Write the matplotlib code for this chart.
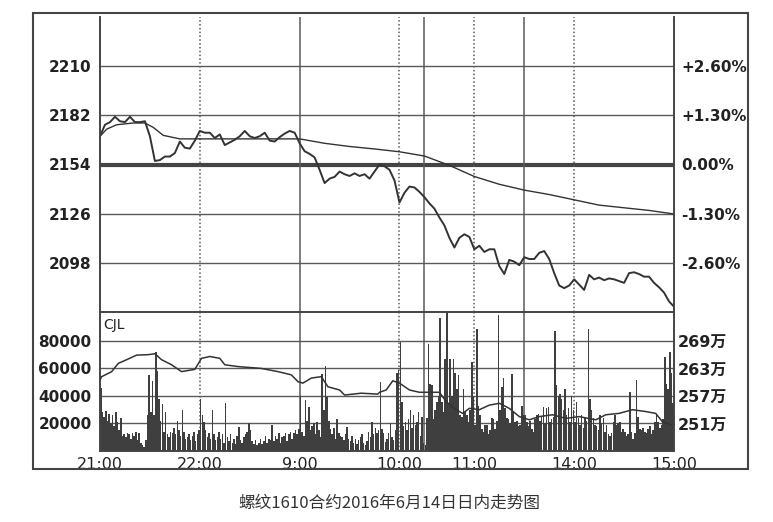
import numpy as np
import matplotlib.pyplot as plt
from matplotlib.patches import Rectangle

plt.rcParams['font.family'] = ['DejaVu Sans', 'Noto Sans CJK SC']

# trading minutes: 21:00-23:00, 9:00-10:15, 10:30-11:30, 13:30-15:00 -> 345 min
tick_pos = [0, 60, 120, 180, 225, 285, 345]
tick_labels = ['21:00', '22:00', '9:00', '10:00', '11:00', '14:00', '15:00']
solid_x = [120, 195, 255]
dotted_x = [60, 180, 225, 285]

prev_close = 2154
price_ticks = [2098, 2126, 2154, 2182, 2210]
pct_labels = ['-2.60%', '-1.30%', '0.00%', '+1.30%', '+2.60%']

# last price, read every 3 minutes
price = [2170, 2176.5, 2178, 2181, 2178.5, 2178, 2181, 2178, 2178, 2178.5,
         2170, 2156, 2156.5, 2158.5, 2158.5, 2160.5, 2167, 2163.5, 2163, 2167.5,
         2173, 2172, 2172, 2169, 2171, 2165, 2166.5, 2168, 2170, 2173,
         2170, 2169, 2170, 2172, 2167.5, 2167, 2169.5, 2171.5, 2173, 2172,
         2166, 2161.5, 2160, 2158, 2151, 2143.5, 2146, 2147, 2150, 2148.5,
         2147.5, 2149, 2147.5, 2148.5, 2146, 2150, 2154, 2153, 2151, 2145,
         2132.5, 2138, 2141.5, 2141, 2138.5, 2135.5, 2132, 2129, 2124, 2119.5,
         2112.5, 2107, 2112.5, 2114.5, 2113, 2106, 2108, 2104.5, 2106, 2106,
         2096.5, 2092, 2100, 2099, 2097, 2101.5, 2100.5, 2100.5, 2104, 2105,
         2100.5, 2092.5, 2085.5, 2084, 2085.5, 2089, 2086, 2083, 2091.5, 2089,
         2090, 2088.5, 2089.5, 2089, 2088, 2087, 2092.5, 2093, 2092, 2090.5,
         2090.5, 2087, 2084.5, 2081.5, 2076.5, 2073.5]
price_min = np.arange(0, 346, 3)

# average price
avg_min = [0, 4, 10, 20, 27, 32, 38, 48, 60, 120, 135, 150, 165, 180, 195,
           210, 225, 240, 255, 270, 285, 300, 315, 330, 345]
avg_val = [2170, 2174, 2176.5, 2177.5, 2177.5, 2175, 2170.5, 2168.5, 2168.5,
           2168.5, 2166, 2164.2, 2162.8, 2161.2, 2158.8, 2153.5, 2147.2, 2142.8,
           2139.5, 2137, 2134, 2131, 2129.5, 2128, 2126]

# open interest (wan)
oi_min = [0, 1, 7, 11, 16, 22, 29, 33, 37, 43, 49, 57, 61, 66, 72, 75, 83, 97,
          107, 115, 119, 122, 127, 133, 137, 144, 147, 157, 167, 168, 172, 176,
          180, 186, 192, 204, 208, 214, 218, 222, 228, 234, 240, 246, 252, 258,
          264, 272, 280, 288, 298, 304, 312, 320, 328, 334, 338, 343]
oi_val = [260.5, 261.2, 262.3, 264.1, 264.9, 265.9, 266.0, 266.2, 264.9, 263.8,
          262.3, 262.8, 265.2, 265.6, 265.2, 263.8, 263.4, 263.0, 262.3, 261.6,
          260.1, 259.8, 260.9, 261.2, 259.0, 258.3, 257.2, 257.6, 257.4, 257.8,
          258.3, 260.3, 259.8, 258.3, 257.8, 257.8, 255.8, 254.0, 253.2, 254.3,
          254.0, 255.0, 255.4, 254.3, 252.5, 251.8, 252.5, 252.9, 252.1, 252.5,
          251.8, 252.9, 253.2, 254.0, 253.6, 253.2, 251.4, 250.7]

# volume per minute
volume = [
    46000, 28000, 25000, 29000, 22000, 27000, 20000, 26000, 18000, 28000, 21000, 15000, 24000, 11000, 12000,
    10000, 13000, 12000, 9000, 13000, 11000, 14000, 8000, 13000, 6000, 4000, 3000, 8000, 26000, 55000,
    28000, 51000, 26000, 72000, 58000, 38000, 22000, 34000, 14000, 28000, 12000, 10000, 14000, 13000, 17000,
    12000, 22000, 15000, 11000, 30000, 14000, 9000, 10000, 12000, 8000, 11000, 14000, 7000, 12000, 15000,
    38000, 26000, 21000, 15000, 10000, 13000, 9000, 29500, 12000, 8000, 10000, 14000, 9000, 12000, 6000,
    35000, 10000, 7000, 12000, 6000, 9000, 5000, 11000, 17400, 8000, 6000, 10000, 12000, 14000, 20000,
    15000, 7000, 5000, 8000, 4000, 6000, 9000, 5000, 7000, 11000, 6000, 9000, 8000, 18700, 7000,
    11000, 9000, 13000, 6000, 10000, 11000, 13000, 7000, 12000, 14000, 9000, 13000, 15000, 12000, 16000,
    40000, 14000, 11000, 36800, 22000, 32000, 15000, 18000, 20000, 12000, 21000, 15000, 10000, 56000, 30000,
    61500, 39000, 22000, 16000, 12000, 17000, 9000, 23500, 13000, 11000, 10000, 8000, 12000, 17400, 9000,
    7000, 11000, 6000, 9000, 5000, 8000, 10000, 12000, 6000, 4000, 7000, 14000, 10000, 21000, 12000,
    17000, 13000, 15000, 50000, 16000, 12800, 6700, 9000, 12800, 20000, 10000, 8000, 15000, 57000, 58500,
    79000, 35700, 18000, 21000, 15000, 23000, 29600, 17000, 26000, 19000, 21000, 28000, 11000, 25000, 6000,
    4000, 24000, 77800, 49000, 48000, 23000, 30000, 35700, 40000, 97000, 35700, 28000, 67000, 100700, 35000,
    67000, 40000, 66500, 57000, 45000, 55000, 26000, 25000, 45000, 28000, 26000, 21000, 30000, 64500, 40000,
    19000, 89000, 33000, 26000, 16000, 14000, 19000, 19000, 12000, 15000, 24000, 23000, 16000, 22000, 98800,
    30000, 46500, 53000, 31000, 24000, 23000, 20000, 56000, 28000, 21000, 22000, 18000, 19000, 33000, 26000,
    26000, 21000, 18000, 22000, 16000, 14000, 23000, 26000, 27000, 22000, 25000, 32000, 20000, 31000, 32000,
    21000, 23000, 25000, 87500, 47700, 40000, 41700, 38000, 30000, 45000, 26000, 31000, 21000, 40000, 30000,
    21000, 35700, 24000, 19000, 26000, 17000, 24000, 22000, 88700, 38000, 30000, 24000, 19000, 18000, 15000,
    26000, 20000, 24000, 14000, 19000, 12000, 11000, 13000, 21000, 26000, 19000, 20000, 21000, 14000, 16000,
    14000, 11000, 12000, 43000, 14000, 9000, 13000, 51300, 25000, 16000, 15000, 17000, 14000, 13000, 16000,
    18000, 12000, 15000, 21000, 26000, 21000, 17000, 19000, 23000, 68000, 49000, 45000, 71800, 57000, 35000,
]
vol_ticks = [20000, 40000, 60000, 80000]
oi_ticks = [251, 257, 263, 269]
oi_labels = ['251万', '257万', '263万', '269万']

line_c = '#333333'
grid_c = '#5a5a5a'
W, H = 773, 522

fig = plt.figure(figsize=(W / 100, H / 100), dpi=100)
ax = fig.add_axes([100 / W, 1 - 312 / H, 574 / W, 295 / H])
axv = fig.add_axes([100 / W, 1 - 451 / H, 574 / W, 139 / H])

# ---- price panel
ax.plot(price_min, price, color=line_c, lw=1.4, zorder=4)
ax.plot(avg_min, avg_val, color=line_c, lw=1.0, zorder=4)
for p in price_ticks:
    if p == prev_close:
        ax.axhline(p, color='#444444', lw=3, zorder=2)
    else:
        ax.axhline(p, color=grid_c, lw=1, zorder=1)
ax.set_xlim(0, 345)
ax.set_ylim(prev_close - 83.5, prev_close + 83.5)
ax.set_yticks(price_ticks)
ax.set_yticklabels([str(p) for p in price_ticks])
ax.set_xticks([])
ax.tick_params(axis='y', length=0, pad=6, labelsize=11, colors='#222222')
for lab in ax.get_yticklabels():
    lab.set_fontweight('bold')
axr = ax.twinx()
axr.set_ylim(ax.get_ylim())
axr.set_yticks(price_ticks)
axr.set_yticklabels(pct_labels)
axr.tick_params(axis='y', length=0, pad=5, labelsize=11, colors='#222222')
for lab in axr.get_yticklabels():
    lab.set_fontweight('bold')

# ---- volume panel
axv.bar(np.arange(len(volume)) + 0.5, volume, width=0.92, color='#3f3f3f', lw=0, zorder=3)
for v in vol_ticks:
    axv.axhline(v, color=grid_c, lw=1, zorder=1)
axv.set_xlim(0, 345)
axv.set_ylim(0, 101000)
axv.set_yticks(vol_ticks)
axv.set_yticklabels([str(v) for v in vol_ticks])
axv.tick_params(axis='y', length=0, pad=6, labelsize=11, colors='#222222')
for lab in axv.get_yticklabels():
    lab.set_fontweight('bold')
axv.set_xticks(tick_pos)
axv.set_xticklabels(tick_labels)
axv.tick_params(axis='x', length=0, pad=4, labelsize=11.5, colors='#222222')
axv.text(2, 97000, 'CJL', fontsize=10, color='#222222', va='top')

axo = axv.twinx()
axo.plot(oi_min, oi_val, color=line_c, lw=1.1, zorder=4)
axo.set_ylim(245, 245 + 101000 * 6 / 20000)
axo.set_yticks(oi_ticks)
axo.set_yticklabels(oi_labels)
axo.tick_params(axis='y', length=0, pad=3, labelsize=11.5, colors='#222222')
for lab in axo.get_yticklabels():
    lab.set_fontweight('bold')

# vertical session / hour lines across both panels
for a in (ax, axv):
    for x in solid_x:
        a.axvline(x, color=grid_c, lw=1.1, zorder=2)
    for x in dotted_x:
        a.axvline(x, color=grid_c, lw=1.1, ls=(0, (1, 1.5)), zorder=2)

for a in (ax, axr):
    a.spines['top'].set_visible(False)
    a.spines['bottom'].set_visible(False)
for a in (ax, axr, axv, axo):
    for s in a.spines.values():
        s.set_color('#444444')
        s.set_linewidth(1.2)

fig.patches.append(Rectangle((33 / W, 1 - 469 / H), 715 / W, 456 / H,
                             transform=fig.transFigure, fill=False,
                             ec='#444444', lw=1.5))
fig.text(389 / W, 1 - 503 / H, '螺纹1610合约2016年6月14日日内走势图',
         family=['Noto Sans CJK SC', 'DejaVu Sans'], fontsize=12,
         color='#333333', ha='center', va='center')

fig.savefig('out.png', dpi=100)
